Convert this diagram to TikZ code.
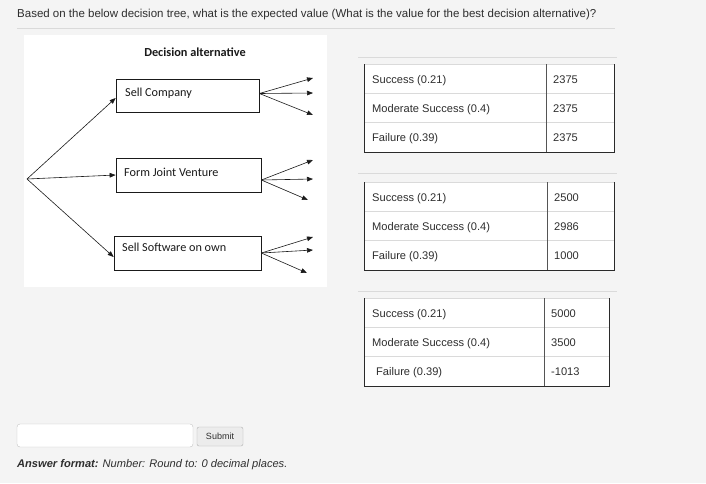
\documentclass[tikz,border=0pt]{standalone}
\usepackage{fontspec}
\setmainfont{Liberation Sans}
\newfontfamily\calibri{Carlito}
\usetikzlibrary{arrows.meta,positioning}
\definecolor{Page}{HTML}{F4F4F4}
\definecolor{Ink}{HTML}{1A1A1A}
\definecolor{Txt}{HTML}{2E2E2E}
\definecolor{Rule}{HTML}{DADADA}
\definecolor{Frame}{HTML}{2A2A2A}
\definecolor{Field}{HTML}{C4C4C4}
\definecolor{Btn}{HTML}{ECECEC}

\begin{document}
\begin{tikzpicture}[x=1pt,y=-1pt,
  altbox/.style={draw=Ink,line width=0.7pt,minimum height=34pt,inner sep=0pt},
  alttext/.style={font=\calibri\fontsize{12.2}{14}\selectfont,Ink,anchor=base west,inner sep=0pt},
  branch/.style={Ink,line width=0.6pt,-{Triangle[length=6pt,width=4.6pt]}},
  cell/.style={font=\fontsize{11.1}{13}\selectfont,Txt,anchor=base west,inner sep=0pt}]
  \useasboundingbox (0,0) rectangle (706,483);
  \fill[Page] (0,0) rectangle (706,483);
  % question
  \node[font=\fontsize{11.5}{13}\selectfont,Txt,anchor=base west,inner sep=0pt] (question) at (17,17)
    {Based on the below decision tree, what is the expected value (What is the value for the best decision alternative)?};
  \draw[Rule,line width=1pt] (17,28) -- (615,28);
  % tree picture
  \fill[white] (24,35) rectangle (327,287);
  \node[font=\calibri\bfseries\fontsize{12.3}{14}\selectfont,Ink] (title) at (195,52) {Decision alternative};
  \node[altbox,minimum width=143pt,minimum height=33pt] (sell) at (187.5,95.5) {};
  \node[altbox,minimum width=145pt] (joint) at (188.5,175) {};
  \node[altbox,minimum width=147pt] (own) at (187.5,253) {};
  \node[alttext] (sellT) at (125,96) {Sell Company};
  \node[alttext] (jointT) at (124,176) {Form Joint Venture};
  \node[alttext] (ownT) at (122,251) {Sell Software on own};
  \coordinate (root) at (27,179);
  \draw[branch] (root) -- ([yshift=-2.5pt]sell.west);
  \draw[branch] (root) -- (joint.west);
  \draw[branch] (root) -- ([yshift=-4pt]own.west);
  % outcome fans
  \foreach \b/\dy/\ya/\yb/\yc/\xc in {sell/2/78/93/115/313, joint/-5/160/179/200/308, own/0/237/250/273/307} {
    \coordinate (\b-a) at (313,\ya);
    \coordinate (\b-b) at (313,\yb);
    \coordinate (\b-c) at (\xc,\yc);
    \foreach \e in {a,b,c}
      \draw[branch] ([yshift=\dy pt]\b.east) -- (\b-\e);
  }
  % payoff tables
  \foreach \t/\top/\rgt/\dv/\sep/\fx/\va/\vb/\vc in {
    1/64/614/546/57/372/2375/2375/2375,
    2/182/614/547/173/372/2500/2986/1000,
    3/298/609/544/291/376/5000/3500/-1013} {
    \draw[Rule,line width=1pt] (358,\sep) -- (617,\sep);
    \fill[white] (364,\top) rectangle (\rgt,{\top+88});
    \draw[Rule,line width=0.8pt] (364,\top) -- (\rgt,\top);
    \foreach \k in {1,2}
      \draw[Rule,line width=0.8pt] (364,{\top+29.3*\k}) -- (\rgt,{\top+29.3*\k});
    \draw[Frame,line width=0.9pt] (364,\top) -- (364,{\top+88}) -- (\rgt,{\top+88}) -- (\rgt,\top);
    \draw[Frame!80,line width=0.7pt] (\dv,\top) -- (\dv,{\top+88});
    \node[cell] (t\t-1) at (372,{\top+19}) {Success (0.21)};
    \node[cell] (t\t-2) at (372,{\top+48.3}) {Moderate Success (0.4)};
    \node[cell] (t\t-3) at (\fx,{\top+77.6}) {Failure (0.39)};
    \node[cell] (v\t-1) at ({\dv+7},{\top+19}) {\va};
    \node[cell] (v\t-2) at ({\dv+7},{\top+48.3}) {\vb};
    \node[cell] (v\t-3) at ({\dv+7},{\top+77.6}) {\vc};
  }
  % answer field
  \draw[Field,fill=white,rounded corners=3pt] (17,424) rectangle (193,447);
  \node[draw=Field!90!black,fill=Btn,text=Txt,rounded corners=2pt,minimum width=46pt,minimum height=19pt,
    inner sep=0pt,font=\fontsize{9}{10}\selectfont] (submit) at (220,436.5) {Submit};
  \node[font=\itshape\fontsize{11.1}{13}\selectfont,Txt,anchor=base west,inner sep=0pt] (format) at (17,467)
    {\textbf{Answer format:} Number: Round to: 0 decimal places.};
\end{tikzpicture}
\end{document}
